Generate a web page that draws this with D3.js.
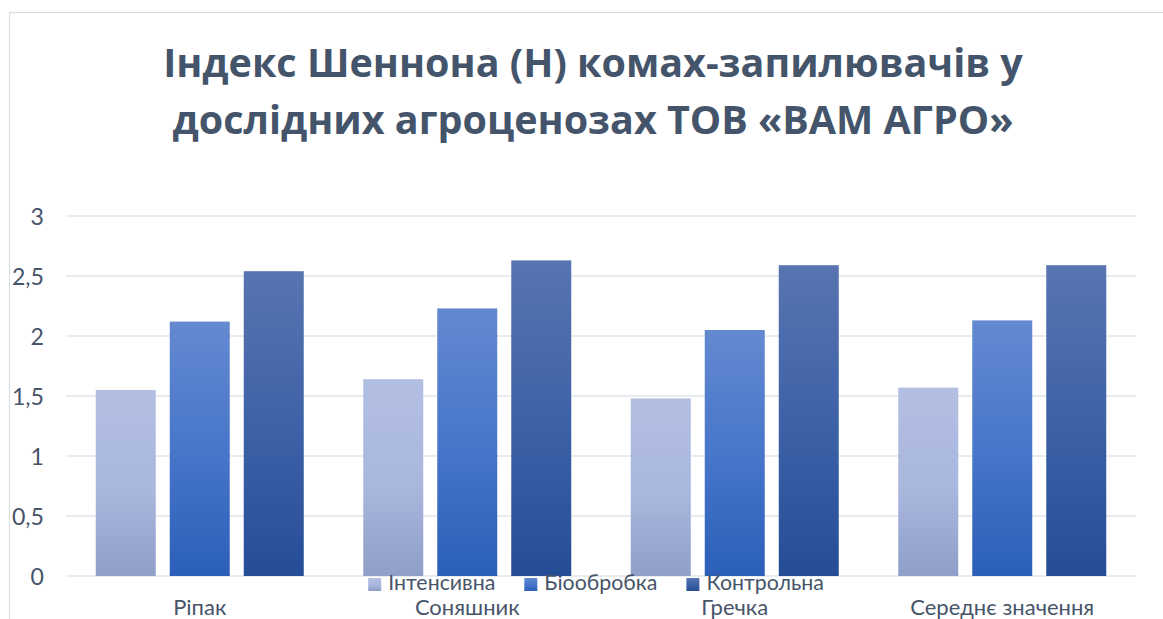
<!DOCTYPE html>
<html>
<head>
<meta charset="utf-8">
<script src="https://cdn.jsdelivr.net/npm/d3@7"></script>
<style>
  html, body { margin: 0; padding: 0; background: #ffffff; }
  svg { display: block; }
</style>
</head>
<body>
<script>
// Chart data
const categories = ["Ріпак", "Соняшник", "Гречка", "Середнє значення"];
const seriesNames = ["Інтенсивна", "Біообробка", "Контрольна"];
const intensive = [1.55, 1.64, 1.48, 1.57];
const bioTreatment = [2.12, 2.23, 2.05, 2.13];
const control = [2.54, 2.63, 2.59, 2.59];
const yTicks = [0, 0.5, 1, 1.5, 2, 2.5, 3];
const titleLines = ["Індекс Шеннона (Н) комах-запилювачів у", "дослідних агроценозах ТОВ «ВАМ АГРО»"];

const seriesValues = [intensive, bioTreatment, control];
const rows = categories.map((c, i) => ({
  category: c,
  values: seriesNames.map((s, j) => ({ series: s, value: seriesValues[j][i] }))
}));

const W = 1163, H = 619;
const plot = { left: 66, right: 1136, top: 216, bottom: 576 };
const font = "Lato, 'Open Sans', sans-serif";
const titleFont = "'Open Sans', 'Noto Sans', sans-serif";
const textColor = "#47546a";
const titleColor = "#44546a";

const svg = d3.select("body").append("svg").attr("width", W).attr("height", H);

// gradients: one per series, light at top, deeper at bottom
const gradStops = [
  ["#b3bfe2", "#a9b6de", "#8f9fc8"],
  ["#6489d0", "#4574c9", "#2b5fb8"],
  ["#5874b1", "#3b60a6", "#254d96"]
];
const defs = svg.append("defs");
gradStops.forEach((stops, i) => {
  const g = defs.append("linearGradient").attr("id", "grad" + i)
    .attr("x1", 0).attr("y1", 0).attr("x2", 0).attr("y2", 1);
  g.append("stop").attr("offset", "0%").attr("stop-color", stops[0]);
  g.append("stop").attr("offset", "55%").attr("stop-color", stops[1]);
  g.append("stop").attr("offset", "100%").attr("stop-color", stops[2]);
});

// chart frame
svg.append("rect").attr("x", 9.5).attr("y", 12.5).attr("width", W + 10).attr("height", H + 10)
  .attr("fill", "none").attr("stroke", "#d9dee5").attr("stroke-width", 1.2);

// scales
const y = d3.scaleLinear().domain([0, 3]).range([plot.bottom, plot.top]);
const x0 = d3.scaleBand().domain(categories).range([plot.left, plot.right]).padding(0);
const groupPad = x0.bandwidth() * 0.1112;
const x1 = d3.scaleBand().domain(seriesNames)
  .range([groupPad, x0.bandwidth() - groupPad]).paddingInner(14 / 74).paddingOuter(0);

// gridlines
svg.append("g").selectAll("line").data(yTicks).join("line")
  .attr("x1", plot.left).attr("x2", plot.right)
  .attr("y1", d => y(d)).attr("y2", d => y(d))
  .attr("stroke", "#e1e4ea").attr("stroke-width", 1.4);

// y axis labels
const yAxis = d3.axisLeft(y).tickValues(yTicks).tickSize(0).tickPadding(0)
  .tickFormat(d => String(d).replace(".", ","));
const yg = svg.append("g").attr("transform", "translate(44,0)").call(yAxis);
yg.select(".domain").remove();
yg.selectAll("text").attr("font-family", font).attr("font-size", 18.5)
  .attr("fill", textColor).attr("dy", "0.36em");

// bars
const groups = svg.append("g").selectAll("g").data(rows).join("g")
  .attr("transform", d => `translate(${x0(d.category)},0)`);
groups.selectAll("rect").data(d => d.values).join("rect")
  .attr("x", d => x1(d.series))
  .attr("width", x1.bandwidth())
  .attr("y", d => y(d.value))
  .attr("height", d => y(0) - y(d.value))
  .attr("fill", d => `url(#grad${seriesNames.indexOf(d.series)})`);

// category labels
const xAxis = d3.axisBottom(x0).tickSize(0).tickPadding(0);
const xg = svg.append("g").attr("transform", `translate(0,${plot.bottom})`).call(xAxis);
xg.select(".domain").remove();
xg.selectAll("text").attr("font-family", font).attr("font-size", 18.5)
  .attr("fill", textColor).attr("y", 39).attr("dy", 0);

// size labels so the longest category label spans ~184px
const longest = xg.selectAll("text").filter(d => d === "Середнє значення").node();
const labelSize = 18.5 * 184 / longest.getComputedTextLength();
xg.selectAll("text").attr("font-size", labelSize);
yg.selectAll("text").attr("font-size", labelSize * 1.05);

// legend
const legend = svg.append("g");
const items = legend.selectAll("g").data(seriesNames).join("g");
items.append("rect").attr("width", 13).attr("height", 13).attr("y", -5)
  .attr("fill", (d, i) => `url(#grad${i})`);
items.append("text").attr("x", 20).attr("dy", "0.35em")
  .attr("font-family", font).attr("font-size", labelSize * 0.97).attr("fill", textColor)
  .text(d => d);
let cursor = 0;
items.each(function () {
  d3.select(this).attr("transform", `translate(${cursor},0)`);
  cursor += 20 + d3.select(this).select("text").node().getComputedTextLength() + 29;
});
const legendWidth = cursor - 29;
legend.attr("transform", `translate(${596 - legendWidth / 2},583)`);

// title
const tl = svg.append("g").selectAll("text").data(titleLines).join("text")
  .attr("x", 593).attr("y", (d, i) => 77 + i * 57)
  .attr("text-anchor", "middle")
  .attr("font-family", titleFont).attr("font-weight", 700).attr("font-size", 40)
  .attr("fill", titleColor).text(d => d);
const titleSize = 40 * 860 / tl.nodes()[0].getComputedTextLength();
tl.attr("font-size", titleSize);
</script>
</body>
</html>
